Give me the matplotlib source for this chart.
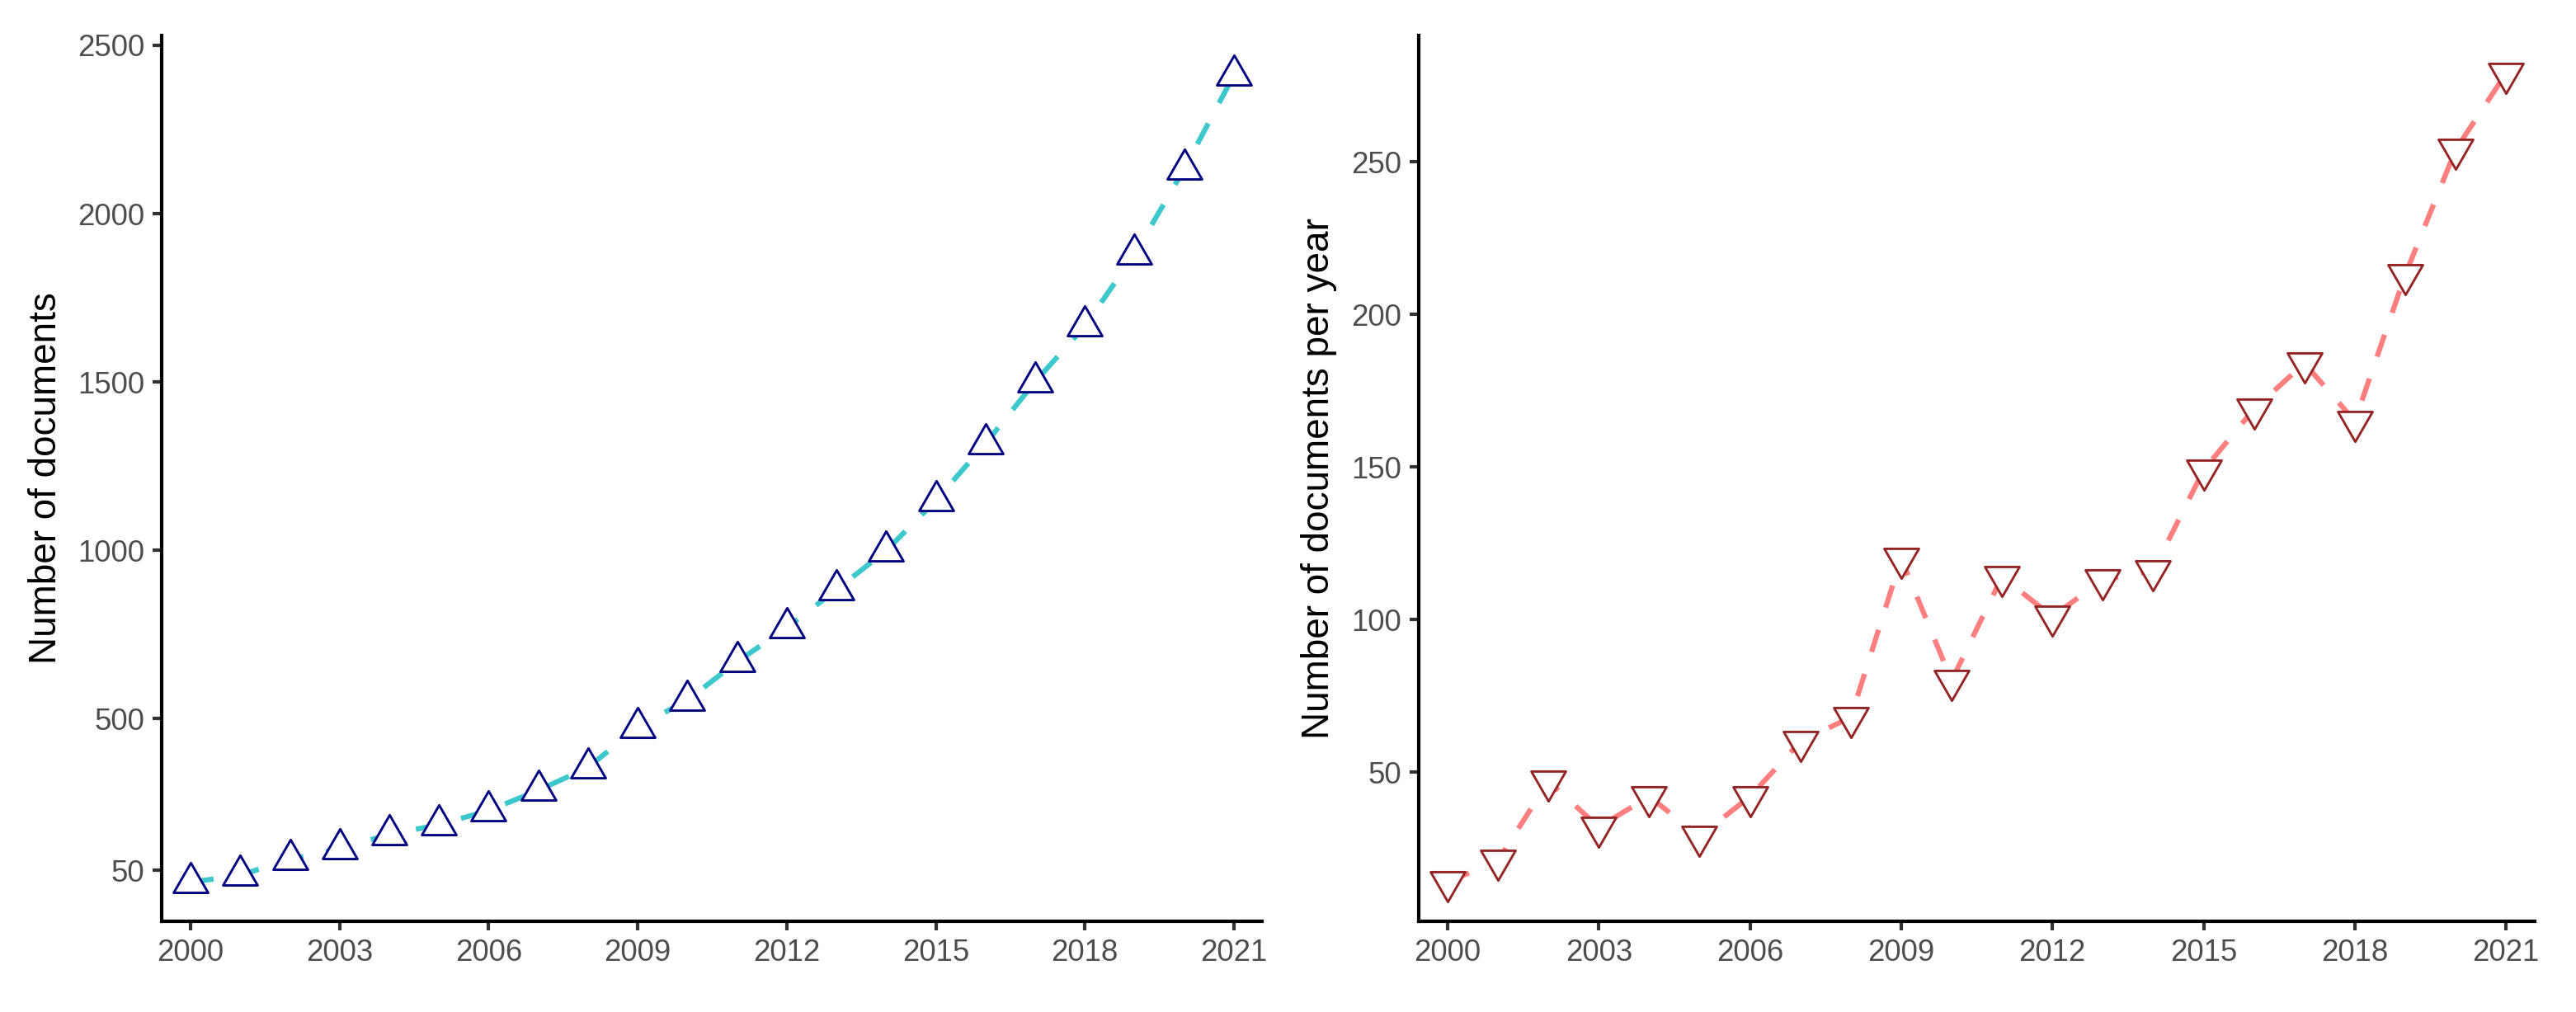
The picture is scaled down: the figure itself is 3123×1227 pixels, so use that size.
import matplotlib
matplotlib.use('Agg')
import matplotlib.pyplot as plt
from matplotlib.path import Path

plt.rcParams['font.family'] = ['Liberation Sans', 'DejaVu Sans']

years = list(range(2000, 2022))
per_year = [14, 21, 47, 32, 42, 29, 42, 60, 68, 120, 80, 114,
            101, 113, 116, 149, 169, 184, 165, 213, 254, 279]
cumulative = [14, 35, 82, 114, 156, 185, 227, 287, 355, 475, 555, 669,
              770, 883, 999, 1148, 1317, 1501, 1666, 1879, 2133, 2412]
x_ticks = [2000, 2003, 2006, 2009, 2012, 2015, 2018, 2021]
left_yticks = [50, 500, 1000, 1500, 2000, 2500]
right_yticks = [50, 100, 150, 200, 250]

# equilateral triangles centred like R's pch 2 / 6
tri_up = Path([(0, 1.555), (-1.3468, -0.7776), (1.3468, -0.7776), (0, 1.555)],
              [Path.MOVETO, Path.LINETO, Path.LINETO, Path.CLOSEPOLY])
tri_down = Path([(0, -1.555), (-1.3468, 0.7776), (1.3468, 0.7776), (0, -1.555)],
                [Path.MOVETO, Path.LINETO, Path.LINETO, Path.CLOSEPOLY])

fig = plt.figure(figsize=(3123 / 300, 1227 / 300), dpi=300)
ax1 = fig.add_axes([0.0628, 0.0896, 0.4272, 0.8753])
ax2 = fig.add_axes([0.5506, 0.0896, 0.4334, 0.8753])


def style(ax, ylabel, yticks, ylim):
    for s in ['top', 'right']:
        ax.spines[s].set_visible(False)
    for s in ['left', 'bottom']:
        ax.spines[s].set_linewidth(1.0)
        ax.spines[s].set_color('black')
    ax.set_xlim(1999.42, 2021.57)
    ax.set_ylim(*ylim)
    ax.set_xticks(x_ticks)
    ax.set_yticks(yticks)
    ax.tick_params(length=2.75, width=1.0, color='#333333', labelsize=8.8,
                   labelcolor='#4D4D4D', pad=2.2)
    ax.set_ylabel(ylabel, fontsize=11, color='black', labelpad=4)


ax1.plot(years, cumulative, color='#3CC8CC', lw=1.5, ls=(0, (4.5, 4.5)), zorder=2)
ax1.plot(years, cumulative, ls='none', marker=tri_up, ms=11.6, mfc='white',
         mec='#000080', mew=0.7, zorder=3)
style(ax1, 'Number of documents', left_yticks, (-102, 2529))

ax2.plot(years, per_year, color='#FF7F7F', lw=1.5, ls=(0, (4.5, 4.5)), zorder=2)
ax2.plot(years, per_year, ls='none', marker=tri_down, ms=11.6, mfc='white',
         mec='#952525', mew=0.7, zorder=3)
style(ax2, 'Number of documents per year', right_yticks, (1.1, 291.4))

fig.savefig('out.png', dpi=300)
